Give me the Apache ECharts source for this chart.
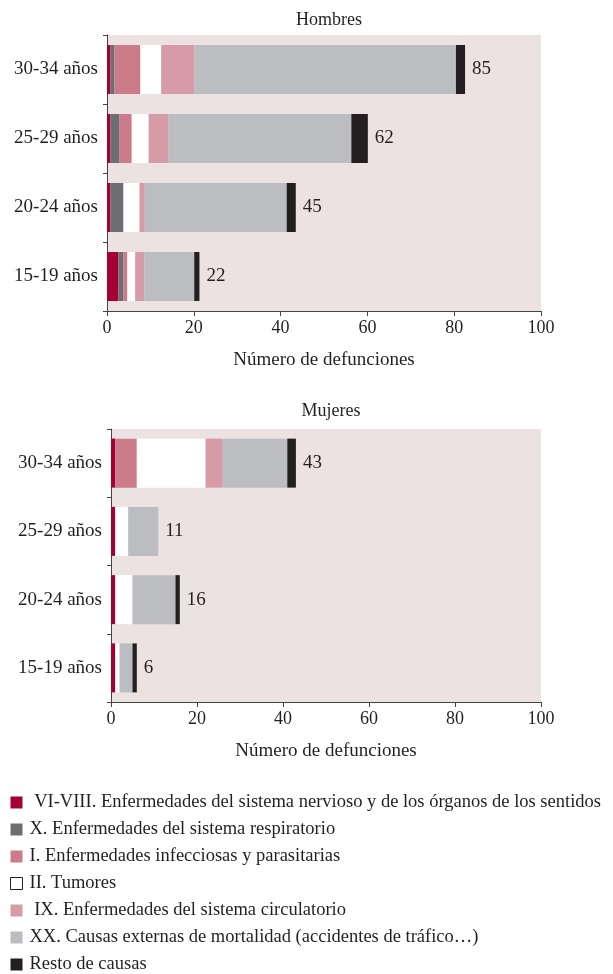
<!DOCTYPE html>
<html lang="es">
<head>
    <meta charset="UTF-8">
    <title>Defunciones por causa</title>
    <script type="text/javascript" src="https://cdn.jsdelivr.net/npm/echarts@6/dist/echarts.min.js"></script>
    <style>
        html, body { margin: 0; padding: 0; background: #fff; }
        #chart { width: 613px; height: 974px; }
    </style>
</head>
<body>
<div id="chart"></div>
<script type="text/javascript">
    // grupos de edad (de abajo hacia arriba)
    var edades = ['15-19 años', '20-24 años', '25-29 años', '30-34 años'];
    var causas = [' VI-VIII. Enfermedades del sistema nervioso y de los órganos de los sentidos',
        'X. Enfermedades del sistema respiratorio',
        'I. Enfermedades infecciosas y parasitarias',
        'II. Tumores',
        ' IX. Enfermedades del sistema circulatorio',
        'XX. Causas externas de mortalidad (accidentes de tráfico…)',
        'Resto de causas'];
    var colores = ['#a50034', '#6d6e72', '#cc7b8b', '#ffffff', '#d69ba6', '#bcbdc1', '#231f20'];
    var ticksX = [0, 20, 40, 60, 80, 100];

    // Hombres
    var hNervioso = [2.6, 0.8, 0.8, 0.8];
    var hRespiratorio = [1.2, 3.0, 2.1, 0.9];
    var hInfecciosas = [0.9, 0, 2.8, 6.0];
    var hTumores = [1.8, 3.7, 3.9, 4.8];
    var hCirculatorio = [2.1, 1.2, 4.6, 7.6];
    var hExternas = [11.5, 32.7, 42.1, 60.3];
    var hResto = [1.2, 2.1, 3.8, 2.1];
    var hTotal = [22, 45, 62, 85];

    // Mujeres
    var mNervioso = [1, 1, 1, 1];
    var mRespiratorio = [0, 0, 0, 0];
    var mInfecciosas = [0, 0, 0, 5];
    var mTumores = [1, 4, 3, 16];
    var mCirculatorio = [0, 0, 0, 4];
    var mExternas = [3, 10, 7, 15];
    var mResto = [1, 1, 0, 2];
    var mTotal = [6, 16, 11, 43];

    var fuente = 'Liberation Serif';
    var tinta = '#231f20';

    var hSeries = [hNervioso, hRespiratorio, hInfecciosas, hTumores, hCirculatorio, hExternas, hResto];
    var mSeries = [mNervioso, mRespiratorio, mInfecciosas, mTumores, mCirculatorio, mExternas, mResto];

    var series = [];
    function agregar(datos, total, idx, pila) {
        for (var i = 0; i < causas.length; i++) {
            series.push({
                name: causas[i],
                type: 'bar',
                stack: pila,
                xAxisIndex: idx,
                yAxisIndex: idx,
                barWidth: 49,
                itemStyle: {color: colores[i]},
                emphasis: {disabled: true},
                data: datos[i]
            });
        }
        // serie vacía solo para la etiqueta del total
        series.push({
            name: 'total' + idx,
            type: 'bar',
            stack: pila,
            xAxisIndex: idx,
            yAxisIndex: idx,
            barWidth: 49,
            data: total.map(function () { return 0; }),
            label: {
                show: true,
                position: 'right',
                distance: 7,
                fontFamily: fuente,
                fontSize: 19,
                color: tinta,
                formatter: function (p) { return total[p.dataIndex]; }
            }
        });
    }
    agregar(hSeries, hTotal, 0, 'h');
    agregar(mSeries, mTotal, 1, 'm');

    function ejeX(idx) {
        return {
            type: 'value',
            gridIndex: idx,
            min: ticksX[0],
            max: ticksX[ticksX.length - 1],
            interval: 20,
            name: 'Número de defunciones',
            nameLocation: 'middle',
            nameGap: 40,
            nameTextStyle: {fontFamily: fuente, fontSize: 19, color: tinta},
            axisLine: {show: true, lineStyle: {color: '#444', width: 1}},
            axisTick: {show: true, length: 5, lineStyle: {color: '#444'}},
            axisLabel: {fontFamily: fuente, fontSize: 18, color: tinta, margin: 8},
            splitLine: {show: false}
        };
    }
    function ejeY(idx) {
        return {
            type: 'category',
            gridIndex: idx,
            data: edades,
            axisLine: {show: true, lineStyle: {color: '#444', width: 1}},
            axisTick: {show: true, length: 4, lineStyle: {color: '#444'}},
            axisLabel: {fontFamily: fuente, fontSize: 19, color: tinta, margin: 9}
        };
    }

    var mychart = echarts.init(document.getElementById('chart'));
    var option = {
        animation: false,
        backgroundColor: '#ffffff',
        title: [
            {text: 'Hombres', left: 324, top: 6, textAlign: 'center',
                textStyle: {fontFamily: fuente, fontSize: 18, fontWeight: 'normal', color: tinta}},
            {text: 'Mujeres', left: 326, top: 397, textAlign: 'center',
                textStyle: {fontFamily: fuente, fontSize: 18, fontWeight: 'normal', color: tinta}}
        ],
        legend: {
            orient: 'vertical',
            left: 10,
            top: 793,
            height: 200,
            padding: 0,
            itemWidth: 12,
            itemHeight: 12,
            itemGap: 8,
            icon: 'rect',
            selectedMode: false,
            textStyle: {fontFamily: fuente, fontSize: 18.5, color: tinta, lineHeight: 18, padding: [0, 0, 0, 2]},
            data: causas.map(function (c, i) {
                var d = {name: c};
                if (i === 3) {
                    d.itemStyle = {color: '#ffffff', borderColor: tinta, borderWidth: 1};
                }
                return d;
            })
        },
        grid: [
            {left: 107, right: 72, top: 35, height: 276, show: true, backgroundColor: '#ece2e2', borderWidth: 0},
            {left: 111, right: 72, top: 429, height: 273, show: true, backgroundColor: '#ece2e2', borderWidth: 0}
        ],
        xAxis: [ejeX(0), ejeX(1)],
        yAxis: [ejeY(0), ejeY(1)],
        series: series
    };
    mychart.setOption(option);
</script>
</body>
</html>
